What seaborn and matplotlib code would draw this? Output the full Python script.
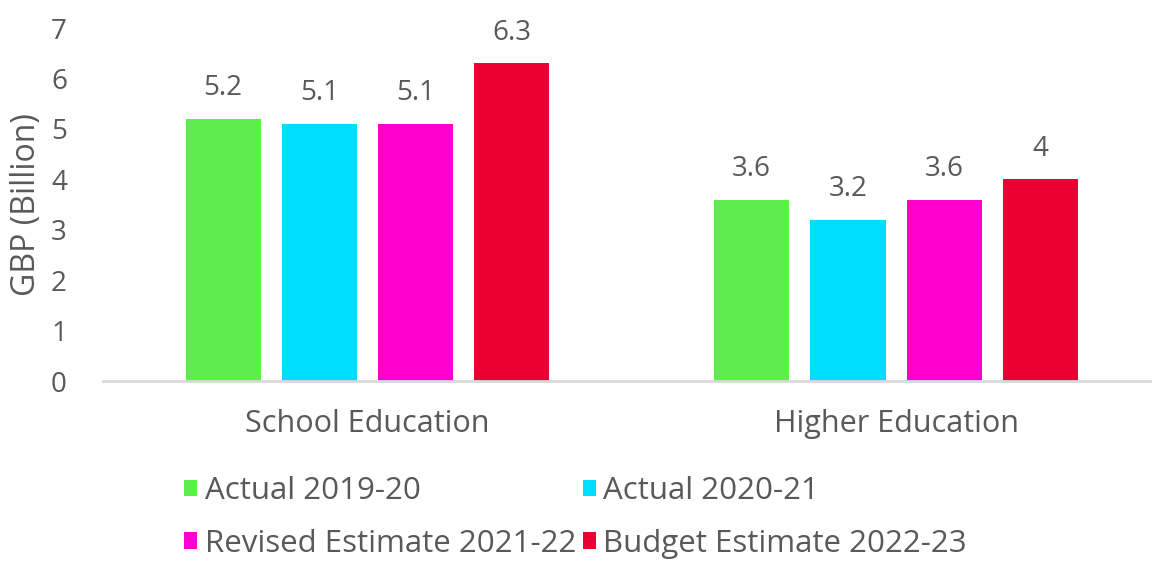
import matplotlib
matplotlib.use("Agg")
import matplotlib.pyplot as plt
import seaborn as sns
import pandas as pd
from matplotlib.patches import Patch

categories = ["School Education", "Higher Education"]
series = ["Actual 2019-20", "Actual 2020-21", "Revised Estimate 2021-22", "Budget Estimate 2022-23"]
values = {
    "Actual 2019-20": [5.2, 3.6],
    "Actual 2020-21": [5.1, 3.2],
    "Revised Estimate 2021-22": [5.1, 3.6],
    "Budget Estimate 2022-23": [6.3, 4.0],
}
colors = ["#5FED4D", "#00DDFF", "#FF00CC", "#EB0033"]
yticks = [0, 1, 2, 3, 4, 5, 6, 7]

rows = []
for s in series:
    for c, v in zip(categories, values[s]):
        rows.append({"Category": c, "Series": s, "Value": v})
df = pd.DataFrame(rows)

sns.set_theme(style="white")
plt.rcParams["font.family"] = ["Open Sans", "DejaVu Sans"]
txt = "#595959"

fig = plt.figure(figsize=(11.58, 5.62), dpi=100)
ax = fig.add_axes([0.089, 0.322, 0.904, 0.628])
sns.barplot(data=df, x="Category", y="Value", hue="Series", hue_order=series,
            palette=colors, width=0.728, gap=0.22, ax=ax, legend=False,
            saturation=1, edgecolor="none")

for cont in ax.containers:
    ax.bar_label(cont, labels=[f"{v:g}" for v in cont.datavalues],
                 padding=12, fontsize=20, color=txt)

ax.set_ylim(0, 7)
ax.set_xlim(-0.5, 1.48)
ax.set_yticks(yticks)
ax.set_yticklabels([str(t) for t in yticks])
ax.tick_params(axis="both", length=0, labelcolor=txt)
ax.tick_params(axis="y", pad=26, labelsize=20)
ax.tick_params(axis="x", pad=20, labelsize=22)
ax.set_xlabel("")
ax.set_ylabel("GBP (Billion)", fontsize=23, color=txt, labelpad=6)
for sp in ["top", "right", "left"]:
    ax.spines[sp].set_visible(False)
ax.spines["bottom"].set_color("#D9D9D9")
ax.spines["bottom"].set_linewidth(2)

order = [0, 2, 1, 3]
handles = [Patch(facecolor=colors[i], edgecolor="none") for i in order]
labels = [series[i] for i in order]
fig.legend(handles, labels, loc="lower left", bbox_to_anchor=(0.14, -0.033),
           ncol=2, frameon=False, fontsize=22.5, labelcolor=txt,
           handlelength=0.42, handleheight=0.42, handletextpad=0.25,
           columnspacing=0.2, labelspacing=0.72, borderpad=0.2)

fig.savefig("out.png", dpi=100)
